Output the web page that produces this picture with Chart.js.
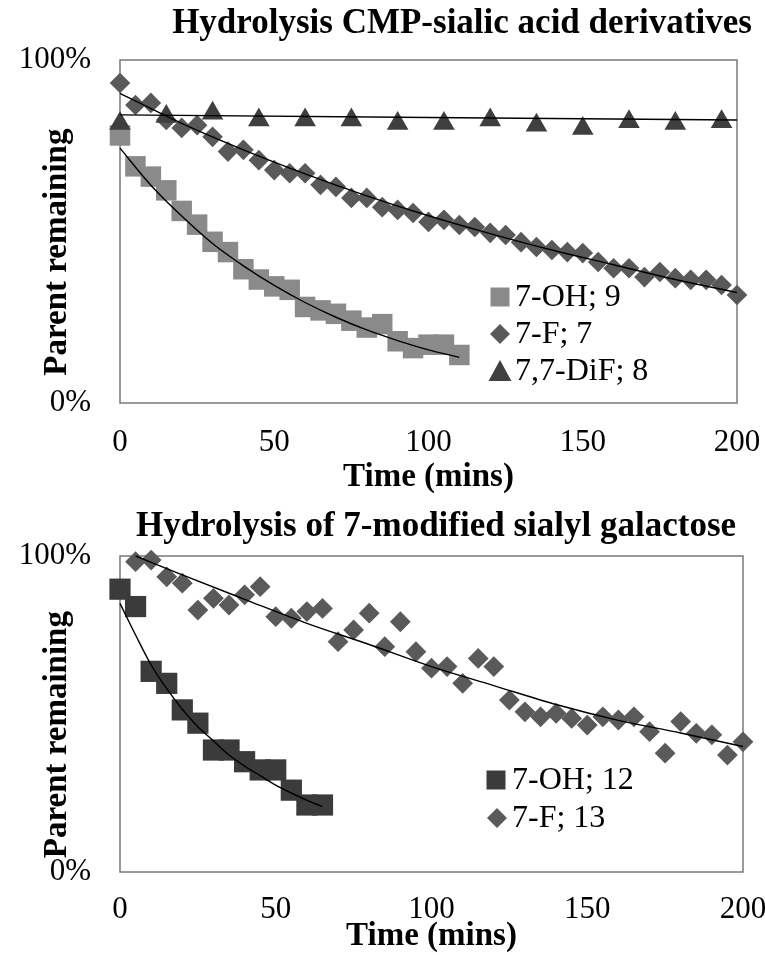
<!DOCTYPE html>
<html><head><meta charset="utf-8">
<script src="https://cdn.jsdelivr.net/npm/chart.js@4.4.1/dist/chart.umd.min.js"></script>
<style>
html,body{margin:0;padding:0;background:#fff;width:765px;height:955px;overflow:hidden}
canvas{display:block;position:absolute;left:0}
#c1{top:0}
#c2{top:498px}
</style></head><body>
<canvas id="c1" width="765" height="498"></canvas>
<canvas id="c2" width="765" height="457"></canvas>
<script>
const FONT = '"Liberation Serif", "Times New Roman", Times, serif';

// ---------- Top chart: Hydrolysis CMP-sialic acid derivatives ----------
const topTitle = 'Hydrolysis CMP-sialic acid derivatives';
const topTime9 = [0,5,10,15,20,25,30,35,40,45,50,55,60,65,70,75,80,85,90,95,100,105,110];
const topOH9   = [78,69,66,62,56,52,47,44,39,36,34,33,28,27,26,24,22,23,18,16,17,17,14];
const topTime7 = [0,5,10,15,20,25,30,35,40,45,50,55,60,65,70,75,80,85,90,95,100,105,110,115,120,125,130,135,140,145,150,155,160,165,170,175,180,185,190,195,200];
const topF7    = [93.3,86.9,87.5,82.5,80.2,81.0,77.6,73.3,73.8,70.8,67.9,67,67,63.6,63,59.8,59.8,57.1,56.3,55.4,52.8,53.4,51.9,51.3,49.6,49,46.9,45.5,44.6,44,43.7,41.1,39.3,39.3,36.7,38.2,36.4,35.9,35.9,34.4,31.5];
const topTime8 = [0,15,30,45,60,75,90,105,120,135,150,165,180,195];
const topDiF8  = [81.5,83.5,84.5,82.5,82.5,82.5,81.5,81.5,82.5,81,80,82,81.5,82];
// trend lines
const trendTime9 = [0,10,20,30,40,50,60,70,80,90,100,110];
const trendOH9   = [74.3,63.5,54.5,46.5,40,34.3,29.3,25,21.3,18.2,15.5,13.3];
const trendTime7 = [0,20,40,60,80,100,120,140,160,180,200];
const trendF7    = [90.3,81.5,73.8,66.8,60.4,54.6,49.4,44.6,40.3,36,32.2];
const trendTime8 = [0,200];
const trendDiF8  = [84,82.5];

// ---------- Bottom chart: Hydrolysis of 7-modified sialyl galactose ----------
const botTitle = 'Hydrolysis of 7-modified sialyl galactose';
const botTime12 = [0,5,10,15,20,25,30,35,40,45,50,55,60,65];
const botOH12   = [89.5,84,63.5,59.7,51.3,47.1,38.6,38.6,34.9,32.3,32.3,25.9,21.2,21.2];
const botTime13 = [5,10,15,20,25,30,35,40,45,50,55,60,65,70,75,80,85,90,95,100,105,110,115,120,125,130,135,140,145,150,155,160,165,170,175,180,185,190,195,200];
const botF13    = [98.2,98.7,93.4,91.4,82.9,86.6,84.5,87.7,90.3,80.8,80.3,82.4,83.4,72.9,76.6,81.9,71.3,79.2,69.7,64.5,65.0,59.7,67.6,65.0,54.4,50.7,49.1,50.2,48.6,46.5,49.1,48.1,49.1,44.4,37.6,47.6,43.9,43.4,37.0,41.2];
const trendTime12 = [0,5,10,15,20,25,30,35,40,45,50,55,60,65];
const trendOH12   = [85,75,65.5,58,51.5,46,41.5,37,33.5,30.5,27.5,25,22.7,20.7];
const trendTime13 = [5,20,40,60,80,100,120,140,160,180,200];
const trendF13    = [100,94,86.3,78.7,72,65,59,53,48,44,39.7];

const xTicks = [0,50,100,150,200];
const yTicks = [0,100];

const pts = (xs, ys) => xs.map((x, i) => ({x, y: ys[i]}));

function drawMarker(ctx, shape, color, cx, cy, s) {
  ctx.save();
  ctx.fillStyle = color;
  ctx.beginPath();
  if (shape === 'rect') {
    ctx.rect(cx - s/2, cy - s/2, s, s);
  } else if (shape === 'rectRot') {
    ctx.moveTo(cx - s/2, cy); ctx.lineTo(cx, cy - s/2); ctx.lineTo(cx + s/2, cy); ctx.lineTo(cx, cy + s/2); ctx.closePath();
  } else {
    ctx.moveTo(cx, cy - s*0.5); ctx.lineTo(cx + s*0.52, cy + s*0.45); ctx.lineTo(cx - s*0.52, cy + s*0.45); ctx.closePath();
  }
  ctx.fill();
  ctx.restore();
}

const decoPlugin = {
  id: 'deco',
  beforeDatasetsDraw(chart, args, o) {
    const {ctx, chartArea: a} = chart;
    ctx.save();
    ctx.strokeStyle = '#7a7a7a';
    ctx.lineWidth = 1.5;
    ctx.strokeRect(a.left, a.top, a.right - a.left, a.bottom - a.top);
    ctx.restore();
  },
  afterDraw(chart, args, o) {
    const ctx = chart.ctx;
    ctx.save();
    ctx.fillStyle = '#000';
    ctx.textAlign = 'center';
    ctx.textBaseline = 'middle';
    ctx.font = 'bold 35px ' + FONT;
    ctx.fillText(o.title, o.titleX, o.titleY);
    ctx.font = '32px ' + FONT;
    ctx.textAlign = 'left';
    o.legend.forEach(it => {
      drawMarker(ctx, it.shape, it.color, it.mx, it.y, it.size);
      ctx.fillStyle = '#000';
      ctx.fillText(it.label, it.tx, it.y + 1);
    });
    ctx.restore();
  }
};

function scatterDs(label, data, shape, color, r) {
  return {label, data, pointStyle: shape, pointRadius: r, pointHoverRadius: r,
          backgroundColor: color, borderColor: color, borderWidth: 0, pointBorderWidth: 0,
          showLine: false, clip: false};
}
function trendDs(label, data) {
  return {label, data, showLine: true, pointRadius: 0, pointHoverRadius: 0,
          borderColor: '#000', borderWidth: 1.4, cubicInterpolationMode: 'monotone',
          fill: false, clip: false};
}

function makeOptions(cfg) {
  return {
    responsive: false, animation: false,
    layout: {padding: {top: cfg.padTop, right: cfg.padRight, left: 0, bottom: 0}},
    plugins: {
      legend: {display: false}, tooltip: {enabled: false}, title: {display: false},
      deco: cfg.deco
    },
    scales: {
      x: {
        type: 'linear', min: 0, max: 200,
        afterBuildTicks: s => { s.ticks = xTicks.map(v => ({value: v})); },
        afterFit: s => { s.height = cfg.xHeight; s.paddingLeft = 0; s.paddingRight = 0; },
        grid: {display: false, drawTicks: false}, border: {display: false},
        ticks: {font: {family: FONT, size: 31}, color: '#000', padding: cfg.xTickPad, maxRotation: 0, autoSkip: false},
        title: {display: true, text: 'Time (mins)', color: '#000',
                font: {family: FONT, size: 33, weight: 'bold', lineHeight: 1.1},
                padding: {top: 0, bottom: cfg.xTitlePad}}
      },
      y: {
        type: 'linear', min: 0, max: 100,
        afterBuildTicks: s => { s.ticks = yTicks.map(v => ({value: v})); },
        afterFit: s => { s.width = 120; s.paddingTop = 0; s.paddingBottom = 0; },
        grid: {display: false, drawTicks: false}, border: {display: false},
        ticks: {font: {family: FONT, size: 31}, color: '#000', padding: 29, callback: v => v + '%'},
        title: {display: true, text: 'Parent remaining     ', color: '#000',
                font: {family: FONT, size: 33, weight: 'bold', lineHeight: 1.2},
                padding: {top: 38, bottom: 0}}
      }
    }
  };
}

new Chart(document.getElementById('c1'), {
  type: 'scatter',
  data: {datasets: [
    trendDs('trend 7-OH; 9', pts(trendTime9, trendOH9)),
    trendDs('trend 7-F; 7', pts(trendTime7, trendF7)),
    trendDs('trend 7,7-DiF; 8', pts(trendTime8, trendDiF8)),
    scatterDs('7,7-DiF; 8', pts(topTime8, topDiF8), 'triangle', '#3f3f3f', 12.5),
    scatterDs('7-F; 7', pts(topTime7, topF7), 'rectRot', '#595959', 10.3),
    scatterDs('7-OH; 9', pts(topTime9, topOH9), 'rect', '#8a8a8a', 14.5)
  ]},
  options: makeOptions({
    padTop: 60, padRight: 28, xHeight: 95, xTickPad: 21, xTitlePad: 2,
    deco: {
      title: topTitle, titleX: 462, titleY: 24,
      legend: [
        {label: '7-OH; 9', shape: 'rect', color: '#8a8a8a', size: 19, mx: 500, tx: 515, y: 297},
        {label: '7-F; 7', shape: 'rectRot', color: '#595959', size: 20, mx: 500, tx: 515, y: 334},
        {label: '7,7-DiF; 8', shape: 'triangle', color: '#3f3f3f', size: 22, mx: 500, tx: 515, y: 371}
      ]
    }
  }),
  plugins: [decoPlugin]
});

new Chart(document.getElementById('c2'), {
  type: 'scatter',
  data: {datasets: [
    trendDs('trend 7-OH; 12', pts(trendTime12, trendOH12)),
    trendDs('trend 7-F; 13', pts(trendTime13, trendF13)),
    scatterDs('7-F; 13', pts(botTime13, botF13), 'rectRot', '#5a5a5a', 10.4),
    scatterDs('7-OH; 12', pts(botTime12, botOH12), 'rect', '#3b3b3b', 15)
  ]},
  options: makeOptions({
    padTop: 58, padRight: 22, xHeight: 83, xTickPad: 19, xTitlePad: 0,
    deco: {
      title: botTitle, titleX: 436, titleY: 29,
      legend: [
        {label: '7-OH; 12', shape: 'rect', color: '#3b3b3b', size: 19, mx: 496, tx: 512, y: 282},
        {label: '7-F; 13', shape: 'rectRot', color: '#5a5a5a', size: 20, mx: 497, tx: 512, y: 320}
      ]
    }
  }),
  plugins: [decoPlugin]
});
</script>
</body></html>
